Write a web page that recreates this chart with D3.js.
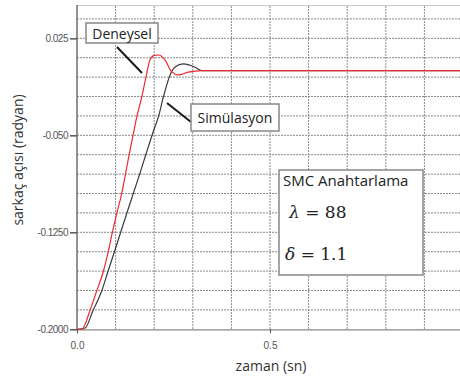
<!DOCTYPE html>
<html lang="tr">
<head>
  <meta charset="UTF-8">
  <title>SMC Anahtarlama</title>
  <script src="https://cdn.jsdelivr.net/npm/d3@7/dist/d3.min.js"></script>
  <style>
    body { margin: 0; background: #fff; }
    svg { display: block; font-family: "Open Sans", "DejaVu Sans", sans-serif; }
  </style>
</head>
<body>
  <svg width="460" height="378"></svg>
  <script>
    // zaman (sn)
    var redT = [0, 0.013, 0.034, 0.051, 0.068, 0.081, 0.093, 0.103, 0.116, 0.126, 0.135, 0.148, 0.155, 0.168, 0.179, 0.189, 0.200, 0.211, 0.228, 0.245, 0.262, 0.288, 0.323, 1.0]
    var redV = [-0.2, -0.1998, -0.1851, -0.1704, -0.1555, -0.14, -0.1232, -0.1103, -0.0948, -0.0794, -0.0652, -0.0459, -0.0356, -0.0201, -0.0046, 0.0083, 0.0118, 0.0121, 0.0083, -0.0008, -0.0033, -0.0012, 0.0, 0.0]
    var blackT = [0, 0.021, 0.042, 0.064, 0.080, 0.097, 0.115, 0.129, 0.146, 0.163, 0.178, 0.199, 0.211, 0.224, 0.243, 0.254, 0.275, 0.306, 0.323, 0.345, 1.0]
    var blackV = [-0.2, -0.199, -0.1851, -0.1704, -0.1555, -0.14, -0.1232, -0.1103, -0.0948, -0.0794, -0.0652, -0.0459, -0.0356, -0.0201, -0.002, 0.0029, 0.0052, 0.0026, 0.0, 0.0, 0.0]

    var yTicks = [0.025, -0.05, -0.125, -0.2]
    var yTickLabels = ['0.025', '-0.050', '-0.1250', '-0.2000']
    var xTicks = [0, 0.5, 1.0]
    var xTickLabels = ['0.0', '0.5', '1']

    var svg = d3.select('svg')

    var x = d3.scaleLinear().domain([0, 1.0]).range([77, 463])
    var y = d3.scaleLinear().domain([-0.2, 0.05]).range([329.3, 6])

    // grid
    var grid = svg.append('g')
      .attr('stroke', '#8a8a8a')
      .attr('stroke-width', 1)
      .attr('stroke-dasharray', '2,1')
    grid.selectAll('.gv')
      .data(d3.range(1, 11).map(i => i * 0.1))
      .enter()
      .append('line')
      .attr('x1', d => x(d)).attr('x2', d => x(d))
      .attr('y1', y(0.05)).attr('y2', y(-0.2))
    grid.selectAll('.gh')
      .data(d3.range(1, 17).map(i => -0.2 + i * 0.015))
      .enter()
      .append('line')
      .attr('x1', x(0)).attr('x2', 460)
      .attr('y1', d => y(d)).attr('y2', d => y(d))

    // top border
    svg.append('line')
      .attr('x1', x(0)).attr('x2', 460)
      .attr('y1', 5.5).attr('y2', 5.5)
      .attr('stroke', '#c8c8c8')

    // axes
    var yAxis = svg.append('g')
      .attr('transform', `translate(${x(0)},0)`)
      .call(d3.axisLeft(y).tickValues(yTicks).tickSize(7).tickPadding(2)
        .tickFormat((d, i) => yTickLabels[i]))
    yAxis.select('.domain').attr('stroke', '#777').attr('stroke-width', 1.6)
      .attr('d', `M0,5V${y(-0.2)}`)
    yAxis.selectAll('.tick line').attr('stroke', '#555').attr('stroke-width', 1.5)
    yAxis.selectAll('text').attr('font-size', 10).attr('fill', '#555')
      .attr('font-family', '"Liberation Sans Narrow", "Liberation Sans", sans-serif')
      .style('letter-spacing', '-0.5px')

    var xAxis = svg.append('g')
      .attr('transform', `translate(0,${y(-0.2)})`)
      .call(d3.axisBottom(x).tickValues(xTicks).tickSize(4).tickPadding(9)
        .tickFormat((d, i) => xTickLabels[i]))
    xAxis.select('.domain').attr('stroke', '#888').attr('stroke-width', 1.2)
    xAxis.selectAll('.tick line').attr('stroke', '#555')
    xAxis.selectAll('text').attr('font-size', 10).attr('fill', '#555')
      .attr('font-family', '"Liberation Sans Narrow", "Liberation Sans", sans-serif')

    // curves
    var line = d3.line().curve(d3.curveMonotoneX)
    svg.append('path')
      .attr('d', line(blackT.map((t, i) => [x(t), y(blackV[i])])))
      .attr('fill', 'none').attr('stroke', '#3a3a3a').attr('stroke-width', 1.2)
    svg.append('path')
      .attr('d', line(redT.map((t, i) => [x(t), y(redV[i])])))
      .attr('fill', 'none').attr('stroke', '#ee2a2f').attr('stroke-width', 1.2)

    // annotations
    svg.append('line').attr('x1', 117).attr('y1', 47).attr('x2', 142).attr('y2', 73)
      .attr('stroke', '#1a1a1a').attr('stroke-width', 2)
    svg.append('line').attr('x1', 167).attr('y1', 103).attr('x2', 191).attr('y2', 122)
      .attr('stroke', '#1a1a1a').attr('stroke-width', 2)

    function box(x0, y0, w, h) {
      svg.append('rect').attr('x', x0).attr('y', y0).attr('width', w).attr('height', h)
        .attr('fill', '#fff').attr('stroke', '#888').attr('stroke-width', 1.5)
    }
    box(86, 23, 72, 20)
    svg.append('text').attr('x', 122).attr('y', 38.5).attr('text-anchor', 'middle')
      .attr('font-size', 14).attr('fill', '#222').attr('font-weight', 500).text('Deneysel')
    box(191, 104, 88, 27)
    svg.append('text').attr('x', 235).attr('y', 123).attr('text-anchor', 'middle')
      .attr('font-size', 14).attr('fill', '#222').text('Simülasyon')

    box(279, 170, 144, 105)
    svg.append('text').attr('x', 283).attr('y', 186)
      .attr('font-size', 15).attr('fill', '#222').text('SMC Anahtarlama')
    var m1 = svg.append('text').attr('x', 289).attr('y', 218)
      .attr('font-size', 17).attr('fill', '#222').attr('font-family', '"DejaVu Serif", serif')
    m1.append('tspan').attr('font-style', 'italic').text('λ')
    m1.append('tspan').text(' = 88')
    var m2 = svg.append('text').attr('x', 285).attr('y', 260)
      .attr('font-size', 17).attr('fill', '#222').attr('font-family', '"DejaVu Serif", serif')
    m2.append('tspan').attr('font-style', 'italic').text('δ')
    m2.append('tspan').text(' = 1.1')

    // axis titles
    svg.append('text').attr('x', 271).attr('y', 371).attr('text-anchor', 'middle')
      .attr('font-size', 14).attr('fill', '#333').text('zaman (sn)')
    svg.append('text').attr('transform', 'translate(23,160) rotate(-90)')
      .attr('text-anchor', 'middle')
      .attr('font-size', 14).attr('fill', '#333').text('sarkaç açısı (radyan)')
  </script>
</body>
</html>
